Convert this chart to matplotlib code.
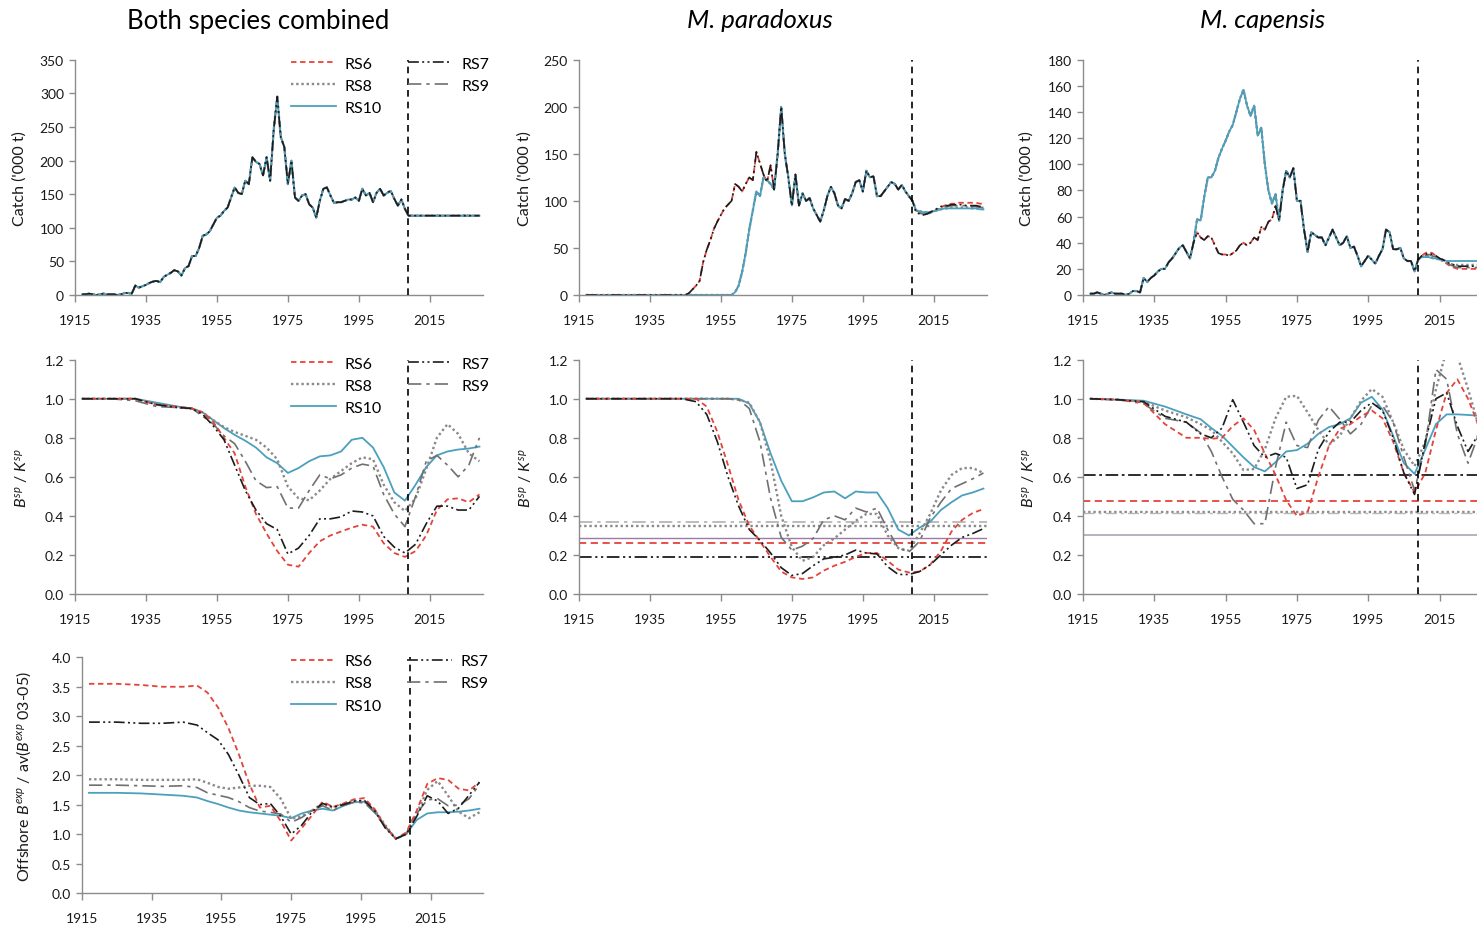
import numpy as np
import matplotlib
matplotlib.use('Agg')
import matplotlib.pyplot as plt

plt.rcParams['font.family'] = ['Lato', 'DejaVu Sans']
plt.rcParams['mathtext.fontset'] = 'custom'
plt.rcParams['mathtext.rm'] = 'Lato'
plt.rcParams['mathtext.it'] = 'Lato:italic'
plt.rcParams['mathtext.bf'] = 'Lato:bold'

# ---------------- data ----------------
SCEN = ['RS6', 'RS7', 'RS8', 'RS9', 'RS10']
VLINE_YEAR = 2009

HIST_YEARS = list(range(1917, 2010))
PROJ_YEARS = list(range(2010, 2030))
EARLY_YEARS = list(range(1946, 1970))

catch_comb_hist = [1, 1, 2, 1, 0, 1, 2, 1, 1, 1, 0, 1, 3, 3, 2, 14, 11, 13, 15, 18,
                   20, 21, 19, 27, 30, 33, 37, 35, 29, 40, 43, 58, 58, 70, 88, 90, 95, 105, 115, 118,
                   125, 130, 145, 160, 152, 150, 170, 165, 205, 198, 195, 178, 205, 170, 245, 295, 235, 220, 165, 200,
                   145, 140, 148, 150, 135, 130, 115, 140, 158, 160, 148, 137, 138, 138, 140, 142, 142, 145, 140, 158,
                   148, 152, 138, 152, 158, 148, 152, 155, 143, 133, 142, 128, 118]
catch_comb_proj = [118] * 20

catch_par_hist = [0] * 42 + [3, 10, 25, 45, 70, 90, 110, 105, 125, 122, 118, 112, 150, 200, 150, 125, 95, 128, 95, 108,
                             100, 103, 92, 85, 78, 90, 105, 115, 108, 95, 92, 102, 100, 108, 120, 122, 110, 132, 125, 126,
                             105, 105, 110, 115, 120, 118, 112, 117, 110, 105, 100]
catch_par_early = [2, 6, 10, 15, 35, 48, 58, 70, 78, 85, 92, 96, 100, 118, 115, 110, 118, 125, 122, 152,
                   140, 128, 120, 138]
catch_par_proj = {
    'RS6': [90, 88, 87, 87, 88, 89, 91, 93, 95, 96, 97, 97, 98, 98, 98, 98, 98, 98, 97, 97],
    'RS7': [88, 86, 85, 86, 88, 90, 92, 94, 95, 95, 96, 96, 96, 96, 95, 95, 95, 95, 94, 94],
    'RS8': [90, 89, 88, 88, 88, 89, 90, 91, 92, 92, 93, 93, 93, 93, 93, 93, 92, 92, 92, 91],
    'RS9': [89, 87, 86, 86, 87, 89, 91, 92, 94, 94, 95, 95, 95, 95, 95, 94, 94, 94, 93, 93],
    'RS10': [90, 89, 88, 88, 88, 89, 90, 91, 92, 92, 92, 92, 92, 92, 92, 92, 92, 92, 91, 91],
}

catch_cap_hist = [1, 1, 2, 1, 0, 1, 2, 1, 1, 1, 0, 1, 3, 3, 2, 13, 10, 13, 15, 18,
                  20, 20, 25, 28, 32, 36, 38, 33, 28, 40, 58, 57, 75, 90, 90, 95, 105, 112, 118, 125,
                  130, 140, 150, 157, 145, 137, 145, 122, 128, 100, 80, 70, 77, 57, 80, 95, 90, 97, 72, 72,
                  50, 33, 48, 46, 44, 44, 38, 44, 50, 44, 38, 40, 45, 36, 37, 30, 22, 26, 30, 27,
                  24, 30, 35, 50, 48, 35, 35, 36, 28, 26, 26, 18, 27]
catch_cap_early = [40, 48, 44, 42, 45, 44, 38, 32, 31, 31, 30, 32, 34, 38, 40, 38, 40, 44, 42, 52,
                   50, 56, 58, 68]
catch_cap_proj = {
    'RS6': [30, 32, 33, 32, 30, 28, 26, 24, 22, 21, 20, 20, 20, 20, 20, 20, 20, 20, 20, 20],
    'RS7': [30, 31, 32, 31, 30, 28, 27, 25, 24, 23, 22, 22, 22, 22, 22, 22, 22, 22, 22, 22],
    'RS8': [29, 30, 30, 29, 28, 27, 26, 25, 24, 23, 23, 23, 23, 23, 23, 23, 23, 23, 23, 23],
    'RS9': [29, 30, 31, 30, 29, 28, 27, 25, 23, 22, 21, 21, 21, 21, 21, 21, 21, 21, 21, 21],
    'RS10': [29, 29, 29, 28, 28, 27, 27, 26, 26, 26, 26, 26, 26, 26, 26, 26, 26, 26, 26, 26],
}

# years at which the smooth trajectories were read
G = [1917, 1925, 1932, 1938, 1944, 1948, 1951, 1954, 1957, 1960, 1963, 1966, 1969, 1972, 1975, 1978,
     1981, 1984, 1987, 1990, 1993, 1996, 1999, 2002, 2005, 2008, 2011, 2014, 2017, 2020, 2023, 2026, 2029]

bk_comb = {
    'RS6': [1.0, 1.0, 1.0, 0.97, 0.96, 0.95, 0.93, 0.88, 0.80, 0.72, 0.55, 0.41, 0.31, 0.22, 0.15, 0.14,
            0.21, 0.27, 0.30, 0.32, 0.34, 0.355, 0.345, 0.26, 0.21, 0.19, 0.22, 0.30, 0.43, 0.485, 0.49, 0.47, 0.51],
    'RS7': [1.0, 1.0, 1.0, 0.97, 0.955, 0.95, 0.92, 0.86, 0.79, 0.66, 0.53, 0.43, 0.36, 0.33, 0.205, 0.235,
            0.30, 0.385, 0.385, 0.395, 0.425, 0.42, 0.40, 0.295, 0.24, 0.21, 0.255, 0.36, 0.45, 0.45, 0.43, 0.43, 0.50],
    'RS8': [1.0, 1.0, 1.0, 0.97, 0.955, 0.95, 0.93, 0.89, 0.855, 0.83, 0.81, 0.79, 0.75, 0.69, 0.55, 0.49,
            0.48, 0.53, 0.59, 0.63, 0.67, 0.70, 0.69, 0.56, 0.47, 0.425, 0.49, 0.64, 0.80, 0.87, 0.82, 0.72, 0.68],
    'RS9': [1.0, 1.0, 0.99, 0.96, 0.955, 0.95, 0.91, 0.87, 0.81, 0.77, 0.68, 0.58, 0.545, 0.55, 0.44, 0.44,
            0.53, 0.61, 0.59, 0.61, 0.645, 0.665, 0.655, 0.51, 0.41, 0.345, 0.50, 0.68, 0.71, 0.66, 0.60, 0.66, 0.80],
    'RS10': [1.0, 1.0, 1.0, 0.98, 0.96, 0.95, 0.93, 0.89, 0.85, 0.815, 0.785, 0.75, 0.70, 0.67, 0.62, 0.645,
             0.68, 0.705, 0.71, 0.73, 0.79, 0.80, 0.75, 0.65, 0.52, 0.478, 0.56, 0.65, 0.71, 0.73, 0.74, 0.745, 0.755],
}

bk_par = {
    'RS6': [1.0, 1.0, 1.0, 1.0, 1.0, 1.0, 0.96, 0.83, 0.66, 0.48, 0.35, 0.27, 0.19, 0.115, 0.085, 0.077,
            0.085, 0.12, 0.145, 0.165, 0.19, 0.21, 0.21, 0.17, 0.125, 0.11, 0.115, 0.15, 0.22, 0.32, 0.38, 0.415, 0.435],
    'RS7': [1.0, 1.0, 1.0, 1.0, 1.0, 0.985, 0.92, 0.78, 0.60, 0.45, 0.33, 0.275, 0.21, 0.135, 0.095, 0.105,
            0.145, 0.18, 0.188, 0.20, 0.225, 0.21, 0.205, 0.14, 0.10, 0.10, 0.115, 0.15, 0.20, 0.25, 0.29, 0.31, 0.335],
    'RS8': [1.0, 1.0, 1.0, 1.0, 1.0, 1.0, 1.0, 1.0, 1.0, 0.995, 0.98, 0.88, 0.68, 0.40, 0.24, 0.17,
            0.19, 0.25, 0.285, 0.33, 0.375, 0.41, 0.41, 0.30, 0.235, 0.222, 0.31, 0.41, 0.53, 0.61, 0.645, 0.645, 0.62],
    'RS9': [1.0, 1.0, 1.0, 1.0, 1.0, 1.0, 1.0, 1.0, 1.0, 0.995, 0.95, 0.78, 0.49, 0.29, 0.225, 0.245,
            0.285, 0.38, 0.40, 0.38, 0.44, 0.42, 0.44, 0.33, 0.235, 0.215, 0.27, 0.39, 0.47, 0.54, 0.565, 0.59, 0.62],
    'RS10': [1.0, 1.0, 1.0, 1.0, 1.0, 1.0, 1.0, 1.0, 1.0, 1.0, 0.975, 0.88, 0.72, 0.58, 0.475, 0.475,
             0.495, 0.52, 0.525, 0.49, 0.525, 0.52, 0.52, 0.44, 0.33, 0.30, 0.34, 0.37, 0.43, 0.47, 0.505, 0.52, 0.54],
}
ref_par = {'RS6': 0.26, 'RS7': 0.188, 'RS8': 0.347, 'RS9': 0.37, 'RS10': 0.285}

bk_cap = {
    'RS6': [1.0, 0.995, 0.98, 0.87, 0.80, 0.80, 0.795, 0.80, 0.86, 0.90, 0.84, 0.72, 0.61, 0.48, 0.40, 0.42,
            0.60, 0.76, 0.845, 0.87, 0.91, 0.94, 0.90, 0.78, 0.62, 0.52, 0.62, 0.84, 1.03, 1.10, 1.00, 0.86, 0.80],
    'RS7': [1.0, 0.995, 0.985, 0.91, 0.88, 0.82, 0.80, 0.85, 0.995, 0.88, 0.76, 0.70, 0.72, 0.70, 0.54, 0.56,
            0.74, 0.83, 0.88, 0.88, 0.94, 0.98, 0.94, 0.80, 0.62, 0.51, 0.78, 1.00, 1.03, 0.86, 0.73, 0.82, 0.95],
    'RS8': [1.0, 0.995, 0.985, 0.94, 0.905, 0.87, 0.84, 0.78, 0.72, 0.635, 0.64, 0.74, 0.90, 1.01, 1.015, 0.93,
            0.84, 0.765, 0.81, 0.90, 0.99, 1.05, 1.01, 0.88, 0.74, 0.655, 0.78, 1.05, 1.25, 1.22, 1.05, 0.86, 0.80],
    'RS9': [1.0, 0.995, 0.975, 0.90, 0.88, 0.825, 0.73, 0.60, 0.485, 0.43, 0.36, 0.36, 0.65, 0.88, 0.76, 0.75,
            0.89, 0.96, 0.895, 0.82, 0.87, 0.965, 0.965, 0.88, 0.70, 0.53, 0.76, 1.15, 1.10, 0.82, 0.67, 0.82, 0.95],
    'RS10': [1.0, 0.995, 0.99, 0.96, 0.92, 0.895, 0.85, 0.81, 0.755, 0.70, 0.65, 0.628, 0.675, 0.73, 0.737, 0.77,
             0.82, 0.855, 0.87, 0.90, 0.98, 1.01, 0.945, 0.81, 0.67, 0.615, 0.74, 0.87, 0.92, 0.92, 0.917, 0.913, 0.91],
}
ref_cap = {'RS6': 0.475, 'RS7': 0.61, 'RS8': 0.418, 'RS9': 0.415, 'RS10': 0.30}

offshore = {
    'RS6': [3.55, 3.55, 3.53, 3.50, 3.50, 3.52, 3.40, 3.15, 2.80, 2.35, 1.85, 1.45, 1.48, 1.22, 0.89, 1.10,
            1.32, 1.55, 1.46, 1.52, 1.59, 1.61, 1.42, 1.12, 0.92, 1.03, 1.40, 1.85, 1.95, 1.92, 1.77, 1.74, 1.88],
    'RS7': [2.90, 2.90, 2.88, 2.88, 2.90, 2.85, 2.72, 2.60, 2.35, 2.00, 1.62, 1.50, 1.52, 1.30, 1.00, 1.15,
            1.38, 1.52, 1.46, 1.50, 1.56, 1.57, 1.39, 1.10, 0.92, 1.00, 1.30, 1.65, 1.56, 1.35, 1.44, 1.66, 1.88],
    'RS8': [1.93, 1.93, 1.92, 1.92, 1.92, 1.93, 1.87, 1.80, 1.77, 1.79, 1.82, 1.82, 1.80, 1.60, 1.26, 1.30,
            1.40, 1.52, 1.44, 1.52, 1.56, 1.55, 1.40, 1.15, 0.92, 1.00, 1.35, 1.75, 1.90, 1.65, 1.38, 1.27, 1.37],
    'RS9': [1.83, 1.83, 1.82, 1.81, 1.82, 1.79, 1.70, 1.66, 1.62, 1.55, 1.45, 1.39, 1.37, 1.34, 1.20, 1.28,
            1.40, 1.48, 1.40, 1.49, 1.54, 1.53, 1.36, 1.12, 0.92, 1.00, 1.35, 1.58, 1.60, 1.48, 1.49, 1.60, 1.84],
    'RS10': [1.70, 1.70, 1.69, 1.67, 1.65, 1.62, 1.56, 1.51, 1.45, 1.40, 1.37, 1.35, 1.33, 1.31, 1.27, 1.35,
             1.40, 1.43, 1.40, 1.48, 1.54, 1.55, 1.38, 1.13, 0.92, 1.00, 1.24, 1.35, 1.37, 1.37, 1.38, 1.40, 1.43],
}

XTICKS = [1915, 1935, 1955, 1975, 1995, 2015]

# ---------------- styles ----------------
STYLE = {
    'RS6': dict(color='#e4433b', ls=(0, (3.0, 2.0)), lw=1.3),
    'RS7': dict(color='#1c1c1c', ls=(0, (6.5, 2, 1.2, 2, 1.2, 2)), lw=1.2),
    'RS8': dict(color='#8a8a8a', ls=(0, (1.0, 1.2)), lw=1.7),
    'RS9': dict(color='#707070', ls=(0, (8, 3, 2, 3)), lw=1.2),
    'RS10': dict(color='#4aa0bd', ls='-', lw=1.3),
}
REF_STYLE_PAR = {
    'RS6': dict(color='#e4433b', ls=(0, (4, 2.5)), lw=1.3),
    'RS7': dict(color='#1c1c1c', ls=(0, (7, 2, 1.2, 2, 1.2, 2)), lw=1.3),
    'RS8': dict(color='#8a8a8a', ls=(0, (1.0, 1.2)), lw=1.7),
    'RS9': dict(color='#b0b0b0', ls=(0, (8, 3, 2, 3)), lw=1.2),
    'RS10': dict(color='#a07aa6', ls='-', lw=1.0),
}
REF_STYLE_CAP = {
    'RS6': dict(color='#e4433b', ls=(0, (4, 2.5)), lw=1.3),
    'RS7': dict(color='#1c1c1c', ls=(0, (7, 2, 1.5, 2)), lw=1.3),
    'RS8': dict(color='#8a8a8a', ls=(0, (1.0, 1.2)), lw=1.7),
    'RS9': dict(color='#b8b8b8', ls=(0, (8, 3, 2, 3)), lw=1.0),
    'RS10': dict(color='#a0a0ac', ls='-', lw=1.1),
}
DRAW_ORDER = ['RS10', 'RS8', 'RS9', 'RS6', 'RS7']
CATCH_ORDER = ['RS6', 'RS8', 'RS9', 'RS10', 'RS7']
SPINE = '#8c8c8c'

W, H = 1477, 928
fig = plt.figure(figsize=(W / 100, H / 100), dpi=100)


def px_axes(left, top, right, bottom):
    return fig.add_axes([left / W, 1 - bottom / H, (right - left) / W, (bottom - top) / H])


def style_ax(ax, ylim, yticks, fmt, ylabel, labx):
    ax.set_xlim(1915, 2030)
    ax.set_ylim(*ylim)
    ax.set_xticks(XTICKS)
    ax.set_yticks(yticks)
    ax.set_yticklabels([fmt.format(v) for v in yticks])
    for s in ['top', 'right']:
        ax.spines[s].set_visible(False)
    for s in ['left', 'bottom']:
        ax.spines[s].set_color(SPINE)
        ax.spines[s].set_linewidth(1.0)
    ax.tick_params(axis='both', direction='out', length=5, width=1, color=SPINE,
                   labelsize=10, labelcolor='#1a1a1a')
    ax.tick_params(axis='x', pad=9)
    ax.tick_params(axis='y', length=4, pad=4)
    ax.set_ylabel(ylabel, fontsize=11.5, color='#1a1a1a')
    ax.yaxis.set_label_coords(labx, 0.5)
    ax.axvline(VLINE_YEAR, color='black', ls=(0, (4, 3)), lw=1.2, zorder=5)


def add_legend(ax, anchor_x):
    handles = []
    for name in ['RS6', 'RS8', 'RS10', 'RS7', 'RS9']:
        h, = ax.plot([], [], label=name, **STYLE[name])
        handles.append(h)
    ax.legend(handles=handles, ncol=2, frameon=False, loc='upper right',
              bbox_to_anchor=(anchor_x, 1.075), fontsize=11.5, handlelength=2.8,
              handletextpad=0.55, columnspacing=1.6, labelspacing=0.5)


def catch_series(hist, early, proj, name):
    vals = list(hist)
    if early is not None and name in ('RS6', 'RS7'):
        i0 = HIST_YEARS.index(EARLY_YEARS[0])
        vals[i0:i0 + len(early)] = early
    yrs = HIST_YEARS + PROJ_YEARS
    p = proj[name] if isinstance(proj, dict) else proj
    return yrs, vals + list(p)


COLS = [(75, 483), (579, 987), (1083, 1493)]
ROW1 = (60.7, 296)
ROW2 = (360.7, 595)
ROW3 = (658.3, 894)

# --- Row 1: catches
ax1 = px_axes(COLS[0][0], ROW1[0], COLS[0][1], ROW1[1])
ax2 = px_axes(COLS[1][0], ROW1[0], COLS[1][1], ROW1[1])
ax3 = px_axes(COLS[2][0], ROW1[0], COLS[2][1], ROW1[1])
for name in CATCH_ORDER:
    x, y = catch_series(catch_comb_hist, None, catch_comb_proj, name)
    ax1.plot(x, y, **STYLE[name])
    x, y = catch_series(catch_par_hist, catch_par_early, catch_par_proj, name)
    ax2.plot(x, y, **STYLE[name])
    x, y = catch_series(catch_cap_hist, catch_cap_early, catch_cap_proj, name)
    ax3.plot(x, y, **STYLE[name])
style_ax(ax1, (0, 350), list(range(0, 351, 50)), '{:d}', "Catch ('000 t)", -48 / 408)
style_ax(ax2, (0, 250), list(range(0, 251, 50)), '{:d}', "Catch ('000 t)", -47 / 408)
style_ax(ax3, (0, 180), list(range(0, 181, 20)), '{:d}', "Catch ('000 t)", -49 / 410)
add_legend(ax1, 1.05)

# --- Row 2: B/K
bk_label = r'$B^{sp}$ / $K^{sp}$'
ax4 = px_axes(COLS[0][0], ROW2[0], COLS[0][1], ROW2[1])
ax5 = px_axes(COLS[1][0], ROW2[0], COLS[1][1], ROW2[1])
ax6 = px_axes(COLS[2][0], ROW2[0], COLS[2][1], ROW2[1])
for name in ['RS6', 'RS7', 'RS8', 'RS9', 'RS10']:
    ax5.axhline(ref_par[name], **REF_STYLE_PAR[name])
    ax6.axhline(ref_cap[name], **REF_STYLE_CAP[name])
for name in DRAW_ORDER:
    ax4.plot(G, bk_comb[name], **STYLE[name])
    ax5.plot(G, bk_par[name], **STYLE[name])
    ax6.plot(G, bk_cap[name], **STYLE[name])
bkt = [0.0, 0.2, 0.4, 0.6, 0.8, 1.0, 1.2]
style_ax(ax4, (0, 1.2), bkt, '{:.1f}', bk_label, -45 / 408)
style_ax(ax5, (0, 1.2), bkt, '{:.1f}', bk_label, -45 / 408)
style_ax(ax6, (0, 1.2), bkt, '{:.1f}', bk_label, -46 / 410)
add_legend(ax4, 1.05)

# --- Row 3: offshore exploitable biomass
ax7 = px_axes(82, ROW3[0], 483, ROW3[1])
for name in DRAW_ORDER:
    ax7.plot(G, offshore[name], **STYLE[name])
ot = [0.0, 0.5, 1.0, 1.5, 2.0, 2.5, 3.0, 3.5, 4.0]
style_ax(ax7, (0, 4.0), ot, '{:.1f}', r'Offshore $B^{exp}$ / av($B^{exp}$ 03-05)', -49 / 401)
add_legend(ax7, 1.05)

# --- column titles
fig.text(258 / W, 1 - 21 / H, 'Both species combined', ha='center', va='center', fontsize=18.5)
fig.text(760 / W, 1 - 21 / H, 'M. paradoxus', ha='center', va='center', fontsize=18.5, style='italic')
fig.text(1263 / W, 1 - 21 / H, 'M. capensis', ha='center', va='center', fontsize=18.5, style='italic')

fig.savefig('out.png', dpi=100)
